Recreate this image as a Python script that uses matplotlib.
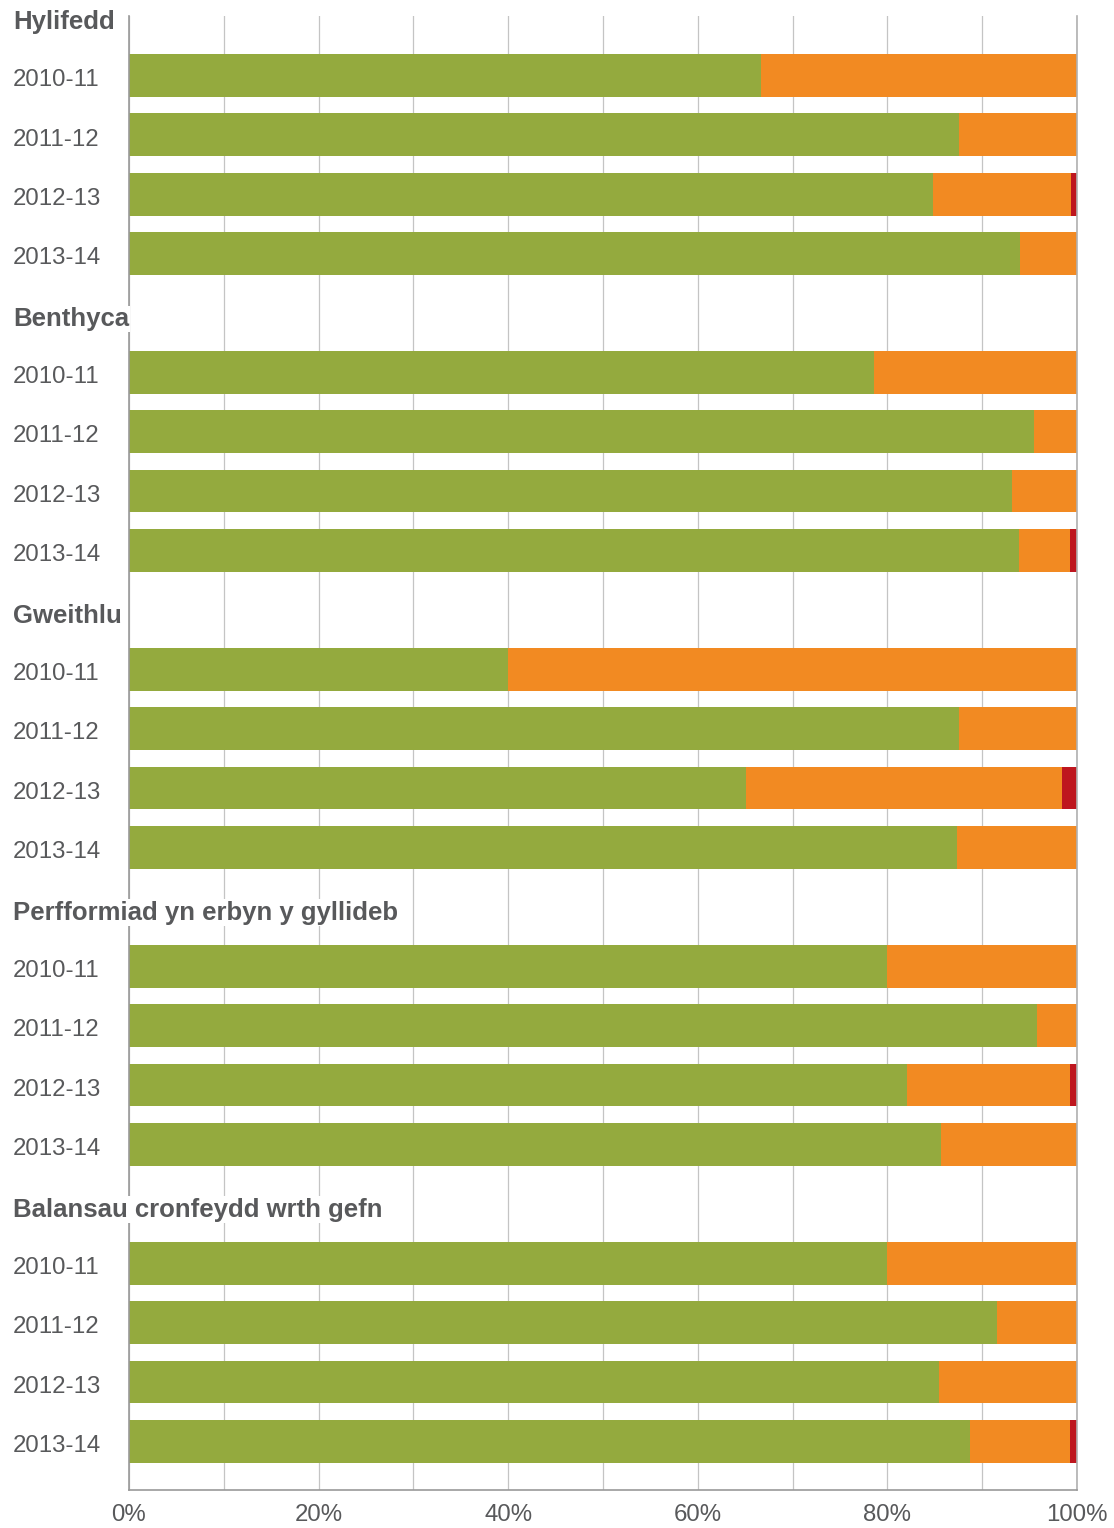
import matplotlib
matplotlib.use("Agg")
import matplotlib.pyplot as plt

# data (percent of bodies in each band)
groups = ["Hylifedd", "Benthyca", "Gweithlu",
          "Perfformiad yn erbyn y gyllideb", "Balansau cronfeydd wrth gefn"]
years = ["2010-11", "2011-12", "2012-13", "2013-14"]

green = [
    [66.7, 87.6, 84.8, 94.0],
    [78.6, 95.5, 93.1, 93.9],
    [40.0, 87.6, 65.1, 87.3],
    [80.0, 95.8, 82.1, 85.7],
    [80.0, 91.6, 85.4, 88.7],
]
orange = [
    [33.3, 12.4, 14.6, 6.0],
    [21.4, 4.5, 6.9, 5.4],
    [60.0, 12.4, 33.3, 12.7],
    [20.0, 4.2, 17.2, 14.3],
    [20.0, 8.4, 14.6, 10.6],
]
red = [
    [0, 0, 0.6, 0],
    [0, 0, 0, 0.7],
    [0, 0, 1.6, 0],
    [0, 0, 0.7, 0],
    [0, 0, 0, 0.7],
]

GREEN = "#94aa3e"
ORANGE = "#f28a22"
RED = "#be161e"
TEXT = "#58595b"

plt.rcParams["font.family"] = ["Liberation Sans", "DejaVu Sans"]

fig = plt.figure(figsize=(11.14, 15.28), dpi=100)
W, H = 1114, 1528
ax = fig.add_axes([129 / W, 1 - 1490 / H, (1077 - 129) / W, (1490 - 16) / H])

label_tr = ax.get_yaxis_transform()
lx = (13 - 129) / 948

pos = 0
for g in range(len(groups)):
    ax.text(lx, pos + 0.1, groups[g], transform=label_tr, ha="left", va="center",
            fontsize=18.5, fontweight="bold", color=TEXT, clip_on=False, zorder=5,
            bbox=dict(facecolor="white", edgecolor="none", pad=1))
    pos += 1
    for i in range(len(years)):
        gv = green[g][i]
        ov = orange[g][i]
        rv = red[g][i]
        ax.barh(pos, gv, height=0.72, color=GREEN, linewidth=0)
        ax.barh(pos, ov, left=gv, height=0.72, color=ORANGE, linewidth=0)
        if rv > 0:
            ax.barh(pos, rv, left=gv + ov, height=0.72, color=RED, linewidth=0)
        ax.text(lx, pos + 0.08, years[i], transform=label_tr, ha="left", va="center",
                fontsize=17.3, color=TEXT, clip_on=False)
        pos += 1

ax.set_xlim(0, 100)
ax.set_ylim(24.82, 0)
ax.set_yticks([])
ax.set_xticks(range(0, 101, 20))
ax.set_xticklabels([str(v) + "%" for v in range(0, 101, 20)])
ax.set_xticks(range(0, 101, 10), minor=True)
ax.tick_params(axis="x", which="both", length=0, pad=10, labelsize=17.3, labelcolor=TEXT)
ax.set_axisbelow(True)
ax.grid(axis="x", which="both", color="#c4c4c4", linewidth=0.9)

ax.spines["top"].set_visible(False)
ax.spines["right"].set_color("#b0b0b0")
ax.spines["right"].set_linewidth(1.2)
ax.spines["left"].set_color("#999999")
ax.spines["left"].set_linewidth(1.2)
ax.spines["bottom"].set_color("#999999")
ax.spines["bottom"].set_linewidth(1.2)

fig.savefig("out.png", dpi=100, facecolor="white")
plt.close()
